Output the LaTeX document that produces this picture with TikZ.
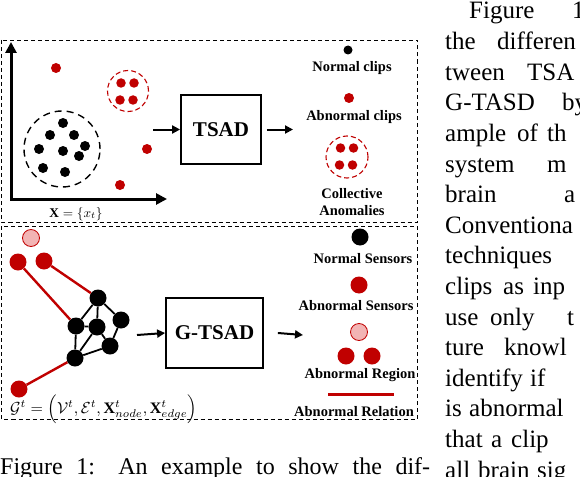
\documentclass[tikz,border=0pt]{standalone}
\usepackage{fontspec}
\usepackage{graphicx}
\setmainfont{Liberation Serif}
\usetikzlibrary{arrows.meta}
\definecolor{myred}{RGB}{192,0,0}
\definecolor{mypink}{RGB}{242,180,180}
\begin{document}
\begin{tikzpicture}[x=1pt,y=-1pt,
  blk/.style={circle,fill=black,inner sep=0pt,minimum size=#1},
  rd/.style={circle,fill=myred,inner sep=0pt,minimum size=#1},
  pk/.style={circle,fill=mypink,draw=myred,line width=0.8pt,inner sep=0pt,minimum size=#1},
  lbl/.style={anchor=base,font=\fontsize{14.5}{18}\selectfont\bfseries,inner sep=0pt},
  boxnode/.style={draw,line width=1.8pt,inner sep=0pt,font=\fontsize{21}{24}\selectfont\bfseries},
  dashframe/.style={line width=0.8pt,dash pattern=on 4pt off 3pt},
  arr/.style={-{Triangle[length=8pt,width=8pt]},line width=2pt},
  coltext/.style={anchor=base west,inner sep=0pt,font=\fontsize{25}{30}\selectfont},
  rededge/.style={draw=myred,line width=2.4pt},
  blkedge/.style={draw=black,line width=1.8pt},
]
\useasboundingbox (0,0) rectangle (580,476);
\clip (0,0) rectangle (580,476);
\fill[white] (0,0) rectangle (580,476);

% frames
\draw[dashframe] (1.5,40) rectangle (417,222);
\draw[dashframe] (1.5,226) rectangle (417,419);

% ---------- top panel ----------
\coordinate (ytop) at (11,42);
\coordinate (orig) at (11,199);
\coordinate (xright) at (167,199);
\draw[line width=3pt,{Triangle[length=11pt,width=11pt]}-{Triangle[length=11pt,width=11pt]}] (ytop) -- (orig) -- (xright);
\node[anchor=base,inner sep=0pt] (xlab) at (76,217) {\resizebox{53pt}{!}{$\mathbf{X}=\{x_t\}$}};

\node[circle,draw,line width=1.4pt,dash pattern=on 7pt off 5pt,minimum size=76pt,inner sep=0pt] (bcirc) at (62,149) {};
\foreach \x/\y [count=\i] in {63/123,50/135,74/135,39/149,63/151,85/146,79/156,43/168,65/172}
  \node[blk=10pt] (b\i) at (\x,\y) {};
\node[rd=10pt] (r1) at (56,68) {};
\node[rd=10pt] (r2) at (147,149) {};
\node[rd=10pt] (r3) at (120,185) {};
\node[circle,draw=myred,line width=1.1pt,dash pattern=on 5pt off 3pt,minimum size=41pt,inner sep=0pt] (rcirc) at (128,91) {};
\foreach \x/\y [count=\i] in {121/83,134/83,120/100,133/100}
  \node[rd=9.5pt] (rc\i) at (\x,\y) {};

\node[boxnode,minimum width=80pt,minimum height=69pt] (tsad) at (221,129.5) {TSAD};
\coordinate (tin) at (153,129.5);
\coordinate (tout) at (293,129.5);
\draw[arr] (tin) -- (tsad.west);
\draw[arr] ([xshift=5pt]tsad.east) -- (tout);

\node[blk=9pt] (ln1) at (348,50) {};
\node[lbl] (lt1) at (352,72) {Normal clips};
\node[rd=10pt] (ln2) at (349,98) {};
\node[lbl] (lt2) at (354,120.5) {Abnormal clips};
\node[circle,draw=myred,line width=1.1pt,dash pattern=on 5pt off 3pt,minimum size=42pt,inner sep=0pt] (lcirc) at (347,157) {};
\foreach \x/\y [count=\i] in {340.5/148,353.5/148,339.5/165,352.5/165}
  \node[rd=9.5pt] (lc\i) at (\x,\y) {};
\node[lbl] (lt3) at (352,198) {Collective};
\node[lbl] (lt4) at (352,215.5) {Anomalies};

% ---------- bottom panel ----------
\node[pk=17pt] (p0) at (31,238) {};
\node[rd=17pt] (s1) at (18,262) {};
\node[rd=17pt] (s2) at (44,261) {};
\node[rd=17pt] (s3) at (19,389) {};
\node[blk=17pt] (g1) at (98,298) {};
\node[blk=17pt] (g2) at (76,326) {};
\node[blk=17pt] (g3) at (97,327) {};
\node[blk=17pt] (g4) at (121,320) {};
\node[blk=17pt] (g5) at (110,346) {};
\node[blk=17pt] (g6) at (75,358) {};
\draw[rededge] (s1) -- (g2);
\draw[rededge] (s2) -- (g1);
\draw[rededge] (s3) -- (g6);
\draw[blkedge] (g1) -- (g2);
\draw[blkedge] (g1) -- (g3);
\draw[blkedge] (g1) -- (g4);
\draw[blkedge] (g2) -- (g3);
\draw[blkedge] (g3) -- (g5);
\draw[blkedge] (g4) -- (g5);
\draw[blkedge] (g2) -- (g6);
\draw[blkedge] (g3) -- (g6);
\draw[blkedge] (g6) -- (g5);

\node[anchor=base west,inner sep=0pt] (formula) at (10,413) {\resizebox{187pt}{!}{$\mathcal{G}^t=\left(\mathcal{V}^t,\mathcal{E}^t,\mathbf{X}^t_{node},\mathbf{X}^t_{edge}\right)$}};

\node[boxnode,minimum width=97pt,minimum height=70pt] (gtsad) at (214.5,333) {G-TSAD};
\coordinate (gin) at (137,335);
\coordinate (gout) at (303,335);
\draw[arr] (gin) -- (gtsad.west);
\draw[arr] ([xshift=14pt]gtsad.east) -- (gout);

\node[blk=17pt] (m1) at (360,237) {};
\node[lbl] (mt1) at (363,263) {Normal Sensors};
\node[rd=17pt] (m2) at (359,285) {};
\node[lbl] (mt2) at (356,310.5) {Abnormal Sensors};
\node[pk=17pt] (m3) at (359,332) {};
\node[rd=17pt] (m4) at (346,356) {};
\node[rd=17pt] (m5) at (372,356) {};
\node[lbl] (mt3) at (360,378) {Abnormal Region};
\coordinate (rl1) at (328,394);
\coordinate (rl2) at (394,394);
\draw[draw=myred,line width=3pt] (rl1) -- (rl2);
\node[lbl] (mt4) at (354,416) {Abnormal Relation};

% ---------- surrounding text ----------
\foreach \x/\y/\t [count=\i] in {
  469/19/Figure, 572/19/1,
  445/49.6/the, 497/49.6/differen,
  445/80.2/tween, 527/80.2/TSA,
  445/110.8/G-TASD, 562/110.8/by,
  445/141.4/ample, 517/141.4/of, 547/141.4/th,
  445/172/system, 547/172/m,
  445/202.6/brain, 564/202.6/a,
  445/233.2/Conventiona,
  445/263.8/techniques,
  445/294.4/clips, 503/294.4/as, 533/294.4/inp,
  445/325/use, 490/325/only, 567/325/t,
  445/355.6/ture, 504/355.6/knowl,
  445/386.2/identify, 530/386.2/if,
  445/416.8/is, 469/416.8/abnormal,
  445/447.4/that, 491/447.4/a, 511/447.4/clip,
  445/478/all, 478/478/brain, 537/478/sig}
  \node[coltext] (w\i) at (\x,\y) {\t};

\node[anchor=base west,inner sep=0pt,font=\fontsize{24}{29}\selectfont] (caption) at (0,474) {\makebox[430pt][s]{Figure 1: An example to show the dif-}};
\end{tikzpicture}
\end{document}
